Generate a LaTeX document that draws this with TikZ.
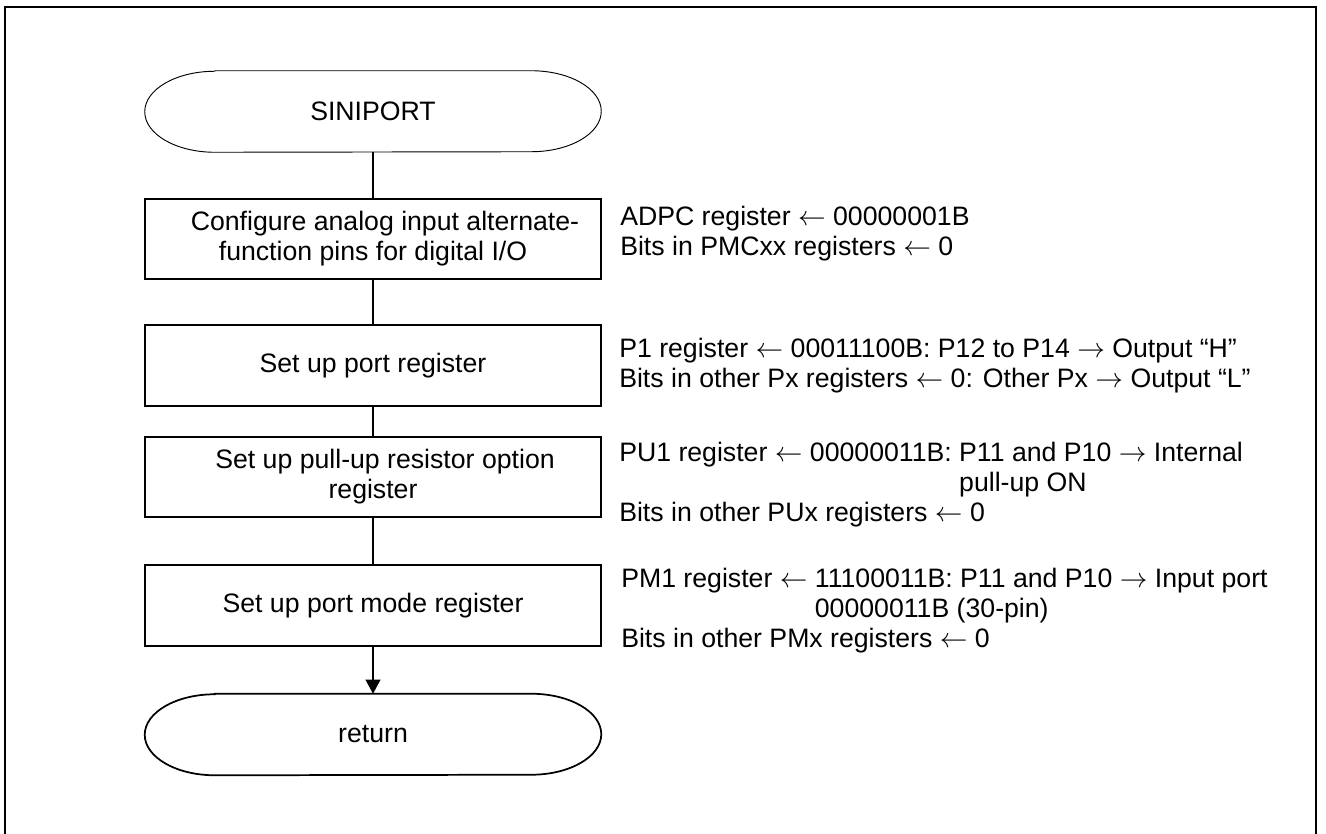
\documentclass[tikz,border=0pt]{standalone}
\usepackage{fontspec}
\setmainfont{Liberation Sans}
\usetikzlibrary{arrows.meta}
\newcommand{\larr}{\ensuremath{\leftarrow}}
\newcommand{\rarr}{\ensuremath{\rightarrow}}
\begin{document}
\begin{tikzpicture}[x=0.75pt,y=-0.75pt,
  every node/.style={font=\fontsize{20}{22.5}\selectfont},
  procbox/.style={draw, line width=1.3pt, minimum width=342pt, minimum height=60.5pt, inner sep=0pt, align=center},
  termnode/.style={minimum width=342pt, minimum height=60.75pt, inner sep=0pt},
  note/.style={anchor=base west, inner sep=0pt},
  conn/.style={line width=1.3pt},
  frame/.style={line width=1.8pt},
]
\useasboundingbox (0,0) rectangle (1326,834);
\draw[frame] (5,840) -- (5,7) -- (1316,7) -- (1316,840);

% terminals
\node[termnode] (start) at (373,111.5) {SINIPORT};
\draw[line width=0.7pt] ([xshift=52.5pt]start.north west) -- ([xshift=-52.5pt]start.north east)
  arc[start angle=90,end angle=-90,x radius=52.5pt,y radius=30.375pt]
  -- ([xshift=52.5pt]start.south west)
  arc[start angle=270,end angle=90,x radius=52.5pt,y radius=30.375pt] -- cycle;

\node[procbox] (b1) at (373,239) {\hspace*{18pt}Configure analog input alternate-\\function pins for digital I/O};
\node[procbox] (b2) at (373,365.5) {Set up port register};
\node[procbox] (b3) at (373,477) {\hspace*{18pt}Set up pull-up resistor option\\register};
\node[procbox] (b4) at (373,605.5) {Set up port mode register};

\node[termnode] (ret) at (373,734.5) {return};
\draw[line width=1.3pt] ([xshift=52.5pt]ret.north west) -- ([xshift=-52.5pt]ret.north east)
  arc[start angle=90,end angle=-90,x radius=52.5pt,y radius=30.375pt]
  -- ([xshift=52.5pt]ret.south west)
  arc[start angle=270,end angle=90,x radius=52.5pt,y radius=30.375pt] -- cycle;

% connectors
\draw[conn] (start.south) -- (b1.north);
\draw[conn] (b1.south) -- (b2.north);
\draw[conn] (b2.south) -- (b3.north);
\draw[conn] (b3.south) -- (b4.north);
\draw[conn,-{Triangle[length=10.5pt,width=11pt]}] (b4.south) -- (ret.north);

% annotations
\node[note] (n1) at (620,225) {\begin{tabular}[t]{@{}l@{}}
  ADPC register \larr{} 00000001B\\
  Bits in PMCxx registers \larr{} 0\end{tabular}};
\node[note] (n2) at (619,357) {\begin{tabular}[t]{@{}l@{}}
  P1 register \larr{} 00011100B: P12 to P14 \rarr{} Output “H”\\
  Bits in other Px registers \larr{} 0: Other Px \rarr{} Output “L”\end{tabular}};
\node[note] (n3) at (619,461) {\begin{tabular}[t]{@{}l@{}}
  PU1 register \larr{} 00000011B: P11 and P10 \rarr{} Internal\\
  \phantom{PU1 register \larr{} 00000011B: }pull-up ON\\
  Bits in other PUx registers \larr{} 0\end{tabular}};
\node[note] (n4) at (621,587) {\begin{tabular}[t]{@{}l@{}}
  PM1 register \larr{} 11100011B: P11 and P10 \rarr{} Input port\\
  \phantom{PM1 register \larr{} }00000011B (30-pin)\\
  Bits in other PMx registers \larr{} 0\end{tabular}};
\end{tikzpicture}
\end{document}
